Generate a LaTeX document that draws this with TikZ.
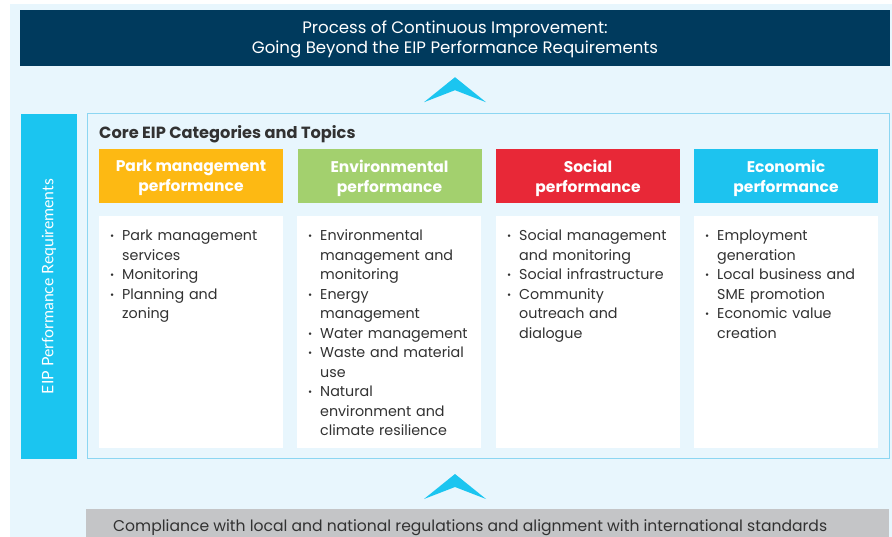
\documentclass[tikz,border=0pt]{standalone}
\usepackage{fontspec}
\setmainfont{Poppins}
\newfontfamily\framefont{Lato}
\usetikzlibrary{positioning,calc}

\definecolor{paleblue}{RGB}{232,246,253}
\definecolor{navyblue}{RGB}{0,58,93}
\definecolor{eipcyan}{RGB}{27,197,240}
\definecolor{coreline}{RGB}{140,214,242}
\definecolor{parkorange}{RGB}{253,185,19}
\definecolor{envgreen}{RGB}{163,208,110}
\definecolor{socialred}{RGB}{232,40,55}
\definecolor{econcyan}{RGB}{29,195,239}
\definecolor{compgray}{RGB}{196,197,199}
\definecolor{bodytext}{RGB}{50,50,50}

\hyphenpenalty=10000
\exhyphenpenalty=10000
\newcommand{\bitem}[1]{\par\hangindent=12pt\hangafter=1\noindent
  \makebox[12pt][l]{\fontsize{10}{10}\selectfont\raisebox{1pt}{\textbullet}}#1\par}

\begin{document}
\begin{tikzpicture}[
  x=1pt, y=-1pt,
  framehead/.style={
    rectangle, fill=navyblue, text=white, inner sep=0pt,
    minimum width=870pt, minimum height=56pt, align=center,
    font=\fontsize{16.6}{19.5}\selectfont
  },
  sidebar/.style={
    rectangle, fill=eipcyan, inner sep=0pt,
    minimum width=56pt, minimum height=345pt
  },
  cathead/.style={
    rectangle, text=white, inner sep=0pt,
    minimum width=184pt, minimum height=54pt, align=center,
    font=\fontsize{15.5}{20}\selectfont\bfseries
  },
  topicbox/.style={
    rectangle, fill=white, anchor=north west, inner sep=0pt,
    minimum width=184pt, minimum height=232pt
  },
  topictext/.style={
    anchor=north west, inner sep=0pt, text width=170pt, align=left,
    text=bodytext, font=\fontsize{14.3}{19.5}\selectfont
  },
  chevron/.style={fill=eipcyan}
]
\clip (0,0) rectangle (892,537);
\fill[paleblue] (10,4) rectangle (892,537);

% Top and frame
\node[framehead] (improve) at (455,38) {};
\node[framehead, fill=none, minimum height=0pt] (improvetext) at (455,39.5) {Process of Continuous Improvement:\\Going Beyond the EIP Performance Requirements};
\node[sidebar] (eipbar) at (49,286.5) {};
\node[rotate=90, text=white, font=\framefont\fontsize{15.8}{19}\selectfont] (eiplabel) at (eipbar.center) {EIP Performance Requirements};
\node[draw=coreline, fill=paleblue, line width=1pt, anchor=north west, inner sep=0pt,
      minimum width=802pt, minimum height=345pt] (core) at (87,113) {};
\node[anchor=west, text=bodytext, inner sep=0pt, font=\fontsize{16.2}{19}\selectfont\bfseries] (coretitle) at (99,134) {Core EIP Categories and Topics};

% Category headers
\node[cathead, fill=parkorange] (parkhead)   at (191,176.5) {};
\node[cathead, fill=envgreen]   (envhead)    at (389.5,176.5) {};
\node[cathead, fill=socialred]  (socialhead) at (588,176.5) {};
\node[cathead, fill=econcyan]   (econhead)   at (786,176.5) {};
\node[cathead, minimum height=0pt] (parklabel)   at ([yshift=-1.5pt]parkhead.center)   {Park management\\performance};
\node[cathead, minimum height=0pt] (envlabel)    at ([yshift=-1.5pt]envhead.center)    {Environmental\\performance};
\node[cathead, minimum height=0pt] (sociallabel) at ([yshift=-1.5pt]socialhead.center) {Social\\performance};
\node[cathead, minimum height=0pt] (econlabel)   at ([yshift=-1.5pt]econhead.center)   {Economic\\performance};

% Topic boxes
\node[topicbox] (parkbody)   at (99,216)  {};
\node[topicbox] (envbody)    at (297,216) {};
\node[topicbox] (socialbody) at (496,216) {};
\node[topicbox] (econbody)   at (694,216) {};

\node[topictext] (parktext) at ([xshift=11pt, yshift=-5pt]parkbody.north west) {%
  \bitem{Park management\newline services}
  \bitem{Monitoring}
  \bitem{Planning and\newline zoning}};
\node[topictext] (envtext) at ([xshift=11pt, yshift=-5pt]envbody.north west) {%
  \bitem{Environmental\newline management and\newline monitoring}
  \bitem{Energy\newline management}
  \bitem{Water management}
  \bitem{Waste and material\newline use}
  \bitem{Natural\newline environment and\newline climate resilience}};
\node[topictext] (socialtext) at ([xshift=11pt, yshift=-5pt]socialbody.north west) {%
  \bitem{Social management\newline and monitoring}
  \bitem{Social infrastructure}
  \bitem{Community\newline outreach and\newline dialogue}};
\node[topictext] (econtext) at ([xshift=11pt, yshift=-5pt]econbody.north west) {%
  \bitem{Employment\newline generation}
  \bitem{Local business and\newline SME promotion}
  \bitem{Economic value\newline creation}};

% Bottom
\node[rectangle, fill=compgray, anchor=north west, inner sep=0pt,
      minimum width=803pt, minimum height=40pt] (comply) at (86,509) {};
\node[anchor=west, inner sep=0pt, text=bodytext, font=\fontsize{15.6}{19}\selectfont] (complytext) at (113,528) {Compliance with local and national regulations and alignment with international standards};

% Chevrons
\coordinate (uptip) at ($(improve.south)+(0,11)$);
\coordinate (lowtip) at ($(improve.south |- core.south)+(0,15)$);
\fill[chevron] (uptip) -- ++(31,25) -- ++(-31,-12) -- ++(-31,12) -- cycle;
\fill[chevron] (lowtip) -- ++(31,25) -- ++(-31,-12) -- ++(-31,12) -- cycle;
\end{tikzpicture}
\end{document}
